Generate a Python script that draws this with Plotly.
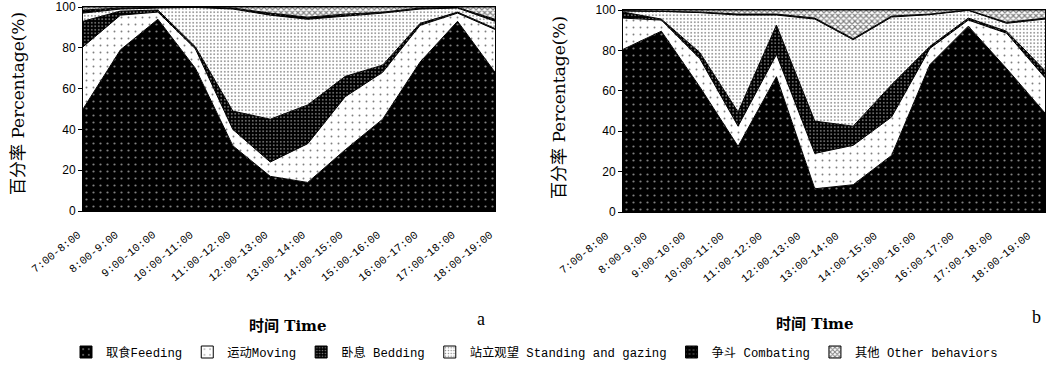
import plotly.graph_objects as go

times = ["7:00-8:00", "8:00-9:00", "9:00-10:00", "10:00-11:00", "11:00-12:00",
         "12:00-13:00", "13:00-14:00", "14:00-15:00", "15:00-16:00", "16:00-17:00",
         "17:00-18:00", "18:00-19:00"]

names = ["取食Feeding", "运动Moving", "卧息 Bedding", "站立观望 Standing and gazing",
         "争斗 Combating", "其他 Other behaviors"]

# panel a (%)
feeding_a = [50, 79, 94, 70, 32, 17, 14, 30, 45, 73, 93, 68]
moving_a = [30.5, 17, 3.5, 9.5, 8, 7, 19, 26, 23, 18, 4, 21]
bedding_a = [12.5, 2, 1, 1, 9, 21, 19, 10, 3.5, 1, 0.5, 0.5]
standing_a = [4, 1, 1, 19.3, 50, 51, 42, 29.5, 25.5, 7, 2, 3.5]
combating_a = [1.5, 0.5, 0.3, 0.2, 0.5, 1, 1, 1, 0.5, 0.5, 0.3, 1]
other_a = [1.5, 0.5, 0.2, 0, 0.5, 3, 5, 3.5, 2.5, 0.5, 0.2, 6]

# panel b (%)
feeding_b = [80.5, 89.5, 62, 32.5, 67, 11.5, 13.5, 28, 73, 92, 71, 49]
moving_b = [15.5, 5.5, 14, 10, 11, 17.5, 19.5, 19, 8, 3, 17.5, 17.5]
bedding_b = [3, 0.5, 3, 7, 14.5, 16, 9.5, 16, 1, 1, 1, 3.5]
standing_b = [0.5, 3.8, 19.7, 48, 5, 50.5, 42.8, 33.5, 15.7, 3.8, 3.9, 25.5]
combating_b = [0.2, 0.2, 0.3, 0.5, 0.5, 0.5, 0.5, 0.5, 0.3, 0.2, 0.5, 0.5]
other_b = [0.3, 0.5, 1.0, 2.0, 2.0, 4.0, 14.2, 3.0, 2.0, 0, 6.1, 4.0]

patterns = [
    dict(shape=".", bgcolor="black", fgcolor="white", size=7, solidity=0.08),
    dict(shape=".", bgcolor="white", fgcolor="black", size=7, solidity=0.06),
    dict(shape=".", bgcolor="black", fgcolor="white", size=3.5, solidity=0.22),
    dict(shape=".", bgcolor="white", fgcolor="black", size=3.5, solidity=0.2),
    dict(shape=".", bgcolor="black", fgcolor="white", size=5, solidity=0.1),
    dict(shape="x", bgcolor="white", fgcolor="black", size=4, solidity=0.5),
]

series_a = [feeding_a, moving_a, bedding_a, standing_a, combating_a, other_a]
series_b = [feeding_b, moving_b, bedding_b, standing_b, combating_b, other_b]

fig = go.Figure()
for k, (vals, suffix) in enumerate([(series_a, ""), (series_b, "2")]):
    for j, v in enumerate(vals):
        fig.add_trace(go.Scatter(
            x=times, y=v, mode="lines", stackgroup="s" + str(k),
            line=dict(color="black", width=1), fillpattern=patterns[j],
            fillcolor=patterns[j]["bgcolor"], showlegend=False, hoverinfo="skip",
            xaxis="x" + suffix, yaxis="y" + suffix))

# legend entries
for j, nm in enumerate(names):
    fig.add_trace(go.Bar(x=[None], y=[None], name=nm,
                         marker=dict(pattern=patterns[j], color=patterns[j]["bgcolor"],
                                     line=dict(color="black", width=1)),
                         xaxis="x", yaxis="y"))

tickfont = dict(family="Liberation Mono, Noto Sans CJK SC", size=11, color="black")
yfont = dict(family="Liberation Sans, Arial", size=12, color="black")
common_x = dict(type="category", categoryorder="array", categoryarray=times,
                range=[0, 11], tickangle=-39, tickfont=tickfont, showline=True,
                mirror=True, linecolor="black", linewidth=1, ticks="", showgrid=False,
                zeroline=False, automargin=False, ticklabeloverflow="allow",
                ticklabelstandoff=12)
common_y = dict(range=[0, 100], tickvals=[0, 20, 40, 60, 80, 100], tickfont=yfont,
                showline=True, mirror=True, linecolor="black", linewidth=1,
                ticks="outside", ticklen=4, tickcolor="black", showgrid=False,
                zeroline=False, automargin=False, ticklabeloverflow="allow")

W, H = 1054, 371


def px(x):
    return x / W


def py(y):
    return 1 - y / H


fig.update_layout(
    width=W, height=H, margin=dict(l=0, r=0, t=0, b=0, autoexpand=False),
    paper_bgcolor="white", plot_bgcolor="white",
    xaxis=dict(domain=[px(83), px(495)], anchor="y", ticklabelshift=-5, **common_x),
    yaxis=dict(domain=[py(211), py(7)], anchor="x", **common_y),
    xaxis2=dict(domain=[px(623), px(1045)], anchor="y2", ticklabelshift=-17, **common_x),
    yaxis2=dict(domain=[py(212), py(10)], anchor="x2", **common_y),
    legend=dict(orientation="h", x=px(66), y=py(352), xanchor="left", yanchor="middle",
                font=dict(family="Liberation Mono, Noto Sans CJK SC", size=12.3, color="black"),
                itemwidth=30, bgcolor="rgba(0,0,0,0)", traceorder="normal"),
    barmode="overlay",
    showlegend=True,
    hovermode=False,
)

title_font = dict(family="DejaVu Serif, Noto Sans CJK SC", size=17, color="black")
bold_font = dict(family="DejaVu Serif, Noto Sans CJK SC", size=15, color="black")
ann = [
    dict(text="百分率 Percentage(%)", x=px(18), y=py(104), textangle=-90, font=title_font),
    dict(text="百分率 Percentage(%)", x=px(559), y=py(108), textangle=-90, font=title_font),
    dict(text="<b>时间 Time</b>", x=px(288), y=py(326), font=bold_font),
    dict(text="<b>时间 Time</b>", x=px(815), y=py(324), font=bold_font),
    dict(text="a", x=px(481), y=py(319), font=dict(family="Liberation Serif", size=18, color="black")),
    dict(text="b", x=px(1036), y=py(317), font=dict(family="Liberation Serif", size=18, color="black")),
]
for a in ann:
    a.update(xref="paper", yref="paper", showarrow=False, xanchor="center", yanchor="middle")
fig.update_layout(annotations=ann)

# remove the default page margin so the figure sits at the window's top-left corner
fig.write_html("out.html", config={"displayModeBar": False},
               post_script="document.body.style.margin='0px';")
